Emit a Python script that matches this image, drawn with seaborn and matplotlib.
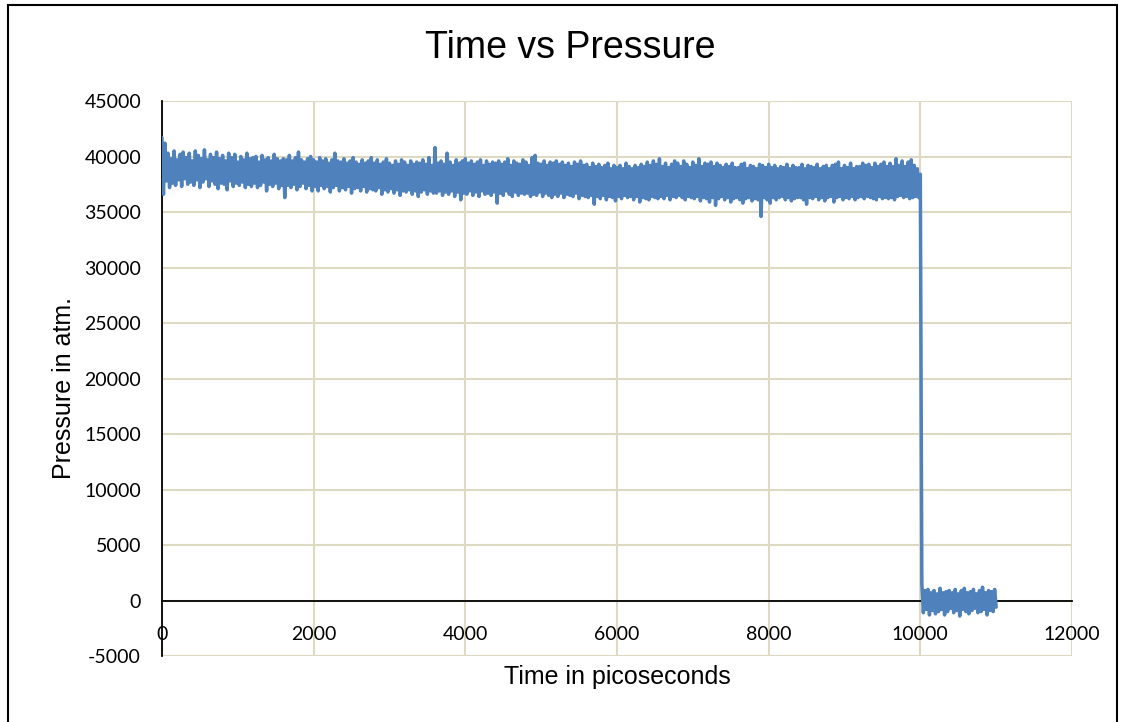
import pandas as pd
import matplotlib.pyplot as plt
import seaborn as sns
from matplotlib.patches import Rectangle

# ==============================
# DATA
# ==============================
# pressure every 20 ps from 0 to 10000 ps (before the release)
pressure_high = [
    41700, 36600, 41200, 37800, 40300, 37200, 39800, 37600, 40500, 37400, 39700, 37900, 40200, 37300, 40400, 38000, 39900, 37500, 40300, 37700,
    39600, 37400, 40500, 37900, 40100, 37200, 39800, 37700, 40600, 38000, 39700, 37300, 40200, 37800, 39900, 37500, 40400, 37100, 39800, 37600,
    40100, 37500, 39600, 37000, 40300, 37800, 39900, 37300, 40200, 37600, 39500, 37400, 40000, 37700, 39700, 37200, 40300, 37500, 39800, 37300,
    39900, 37600, 40000, 37200, 39500, 37400, 40100, 37700, 39700, 36900, 39900, 37500, 39600, 37300, 40200, 37600, 39800, 37100, 39600, 37400,
    39800, 36300, 39700, 37400, 40100, 37200, 39600, 37500, 39900, 37000, 40400, 37300, 39700, 37600, 39500, 37100, 39800, 37400, 40000, 36900,
    39700, 37300, 39500, 36900, 39900, 37400, 39600, 37100, 39800, 37300, 39400, 36800, 39700, 37200, 40300, 37400, 39600, 36900, 39500, 37200,
    39800, 37000, 39400, 37300, 39600, 36700, 39900, 37100, 39500, 37200, 39300, 36900, 39700, 37300, 39400, 36800, 39600, 37100, 39900, 37000,
    39400, 36900, 39700, 37200, 39300, 36600, 39500, 37000, 39800, 36800, 39400, 37100, 39200, 36700, 39600, 37000, 39300, 36500, 39700, 36900,
    39500, 36800, 39200, 37000, 39600, 36600, 39300, 36900, 39500, 36400, 39400, 36800, 39700, 37000, 39300, 36600, 39900, 36900, 39200, 36700,
    40800, 36700, 39400, 36900, 39600, 36500, 39300, 36800, 40300, 36600, 39500, 36900, 39200, 36400, 39700, 36800, 39400, 36100, 39600, 36700,
    39800, 36600, 39400, 36900, 39600, 36500, 39300, 36800, 39500, 36400, 39700, 36900, 39200, 36600, 39600, 36700, 39300, 36500, 39500, 36800,
    39400, 35800, 39600, 36700, 39300, 36500, 39500, 36900, 39800, 36600, 39200, 36400, 39600, 36800, 39400, 36500, 39300, 36700, 39700, 36600,
    39500, 36700, 39200, 36400, 39900, 36600, 40100, 36500, 39400, 36800, 39300, 36400, 39600, 36700, 39200, 36500, 39500, 36300, 39400, 36600,
    39600, 36400, 39300, 36700, 39500, 36300, 39200, 36600, 39400, 36500, 39100, 36400, 39500, 36700, 39300, 36200, 39600, 36500, 39200, 36400,
    39300, 36300, 39000, 36500, 39400, 35700, 39100, 36400, 39300, 36200, 39000, 36500, 39200, 36100, 39400, 36400, 38900, 36300, 39200, 36000,
    39000, 36400, 39200, 36200, 38900, 36500, 39400, 36300, 39100, 36400, 38900, 36100, 39200, 36400, 39000, 35900, 39300, 36300, 39100, 36200,
    39500, 36100, 39200, 36400, 39600, 36300, 39300, 36200, 39800, 36400, 39100, 36200, 39400, 36500, 39000, 36100, 39300, 36400, 39600, 36300,
    39400, 36500, 39100, 36300, 39600, 36100, 39300, 36400, 39000, 36300, 39500, 36200, 39200, 36400, 39800, 36000, 39100, 36300, 39400, 36200,
    39300, 35900, 39500, 36300, 39100, 35600, 39400, 36200, 39200, 36400, 39000, 36100, 39300, 36300, 39100, 35900, 39400, 36200, 39000, 36300,
    39000, 36100, 39300, 35800, 39400, 36200, 38900, 36300, 39200, 36000, 39100, 36200, 38900, 36100, 39300, 34600, 39200, 36300, 39000, 36100,
    39300, 35800, 39000, 36300, 39200, 36100, 38900, 36300, 39100, 36400, 39000, 36100, 39300, 36300, 38900, 36000, 39200, 36200, 39000, 36300,
    39000, 36300, 39300, 36100, 38900, 35700, 39200, 36300, 39100, 36200, 39000, 36400, 39300, 36100, 38900, 36300, 39100, 36000, 39200, 36300,
    38900, 36400, 39200, 35900, 39300, 36300, 39500, 36400, 38900, 36100, 39200, 36300, 39000, 36200, 39400, 36400, 38900, 36100, 39100, 36300,
    39100, 36400, 39400, 36200, 39200, 36400, 39300, 36300, 39000, 36200, 39400, 36100, 39100, 36400, 39300, 36200, 39500, 36300, 39100, 36200,
    39400, 36300, 39100, 36100, 39800, 36400, 39200, 36500, 39600, 36300, 39100, 36400, 39500, 36200, 39700, 36300, 39200, 36400, 38900, 36300,
    38400,
]
time_high = [20 * i for i in range(len(pressure_high))]

# after the release, 10020 ps to 11000 ps
pressure_low = [
    1500, -1100, 900, -800, 1000, -1300, 700, -900, 900, -1200,
    600, -1000, 1100, -800, 700, -1300, 800, -1000, 900, -700,
    700, -1100, 1000, -900, 600, -1400, 900, -800, 1100, -1000,
    700, -1200, 800, -900, 1000, -700, 600, -1100, 900, -1000,
    1200, -800, 700, -1300, 900, -900, 800, -1000, 1000, -600,
]
time_low = [10020 + 20 * i for i in range(len(pressure_low))]

df = pd.DataFrame({
    "Time": time_high + time_low,
    "Pressure": pressure_high + pressure_low,
})

# ==============================
# STYLE
# ==============================
sns.set_theme(style="white")
plt.rcParams["font.family"] = ["Liberation Sans", "DejaVu Sans"]
plt.rcParams["axes.unicode_minus"] = False

grid_color = "#DDD9C3"

fig = plt.figure(figsize=(11.27, 7.22), dpi=100)
ax = fig.add_axes([0.1437, 0.0914, 0.8075, 0.7687])

sns.lineplot(
    data=df,
    x="Time",
    y="Pressure",
    color="#4F81BD",
    linewidth=2.5,
    estimator=None,
    sort=False,
    ax=ax,
    zorder=3,
)

ax.set_xlim(0, 12000)
ax.set_ylim(-5000, 45000)
ax.set_xticks(range(0, 12001, 2000))
ax.set_yticks(range(-5000, 45001, 5000))

ax.grid(True, color=grid_color, linewidth=1.5)
ax.set_axisbelow(True)

# axes cross at zero, like the spreadsheet chart
ax.spines["bottom"].set_position(("data", 0))
ax.spines["bottom"].set_color("black")
ax.spines["bottom"].set_linewidth(1.3)
ax.spines["left"].set_color("black")
ax.spines["left"].set_linewidth(1.3)
ax.spines["top"].set_visible(False)
ax.spines["right"].set_visible(False)
ax.axhline(-5000, color=grid_color, linewidth=1.5, zorder=0)

for lab in ax.get_xticklabels() + ax.get_yticklabels():
    lab.set_fontfamily(["Lato", "DejaVu Sans"])
ax.tick_params(axis="both", length=0, labelsize=14, colors="black")
ax.tick_params(axis="x", pad=18)
ax.tick_params(axis="y", pad=15)

fig.suptitle("Time vs Pressure", fontsize=27, x=0.506, y=0.958, color="black")
ax.set_xlabel("Time in picoseconds", fontsize=18, color="black")
ax.set_ylabel("Pressure in atm.", fontsize=18, color="black")
ax.xaxis.set_label_coords(0.5, -0.016)
ax.yaxis.set_label_coords(-0.0945, 0.483)

# outer chart frame
fig.patches.append(Rectangle(
    (8 / 1127, -0.02), 1109 / 1127, 1.02 - 5 / 722,
    transform=fig.transFigure, fill=False,
    edgecolor="black", linewidth=1.5,
))

plt.savefig("out.png", dpi=100)
plt.close()
